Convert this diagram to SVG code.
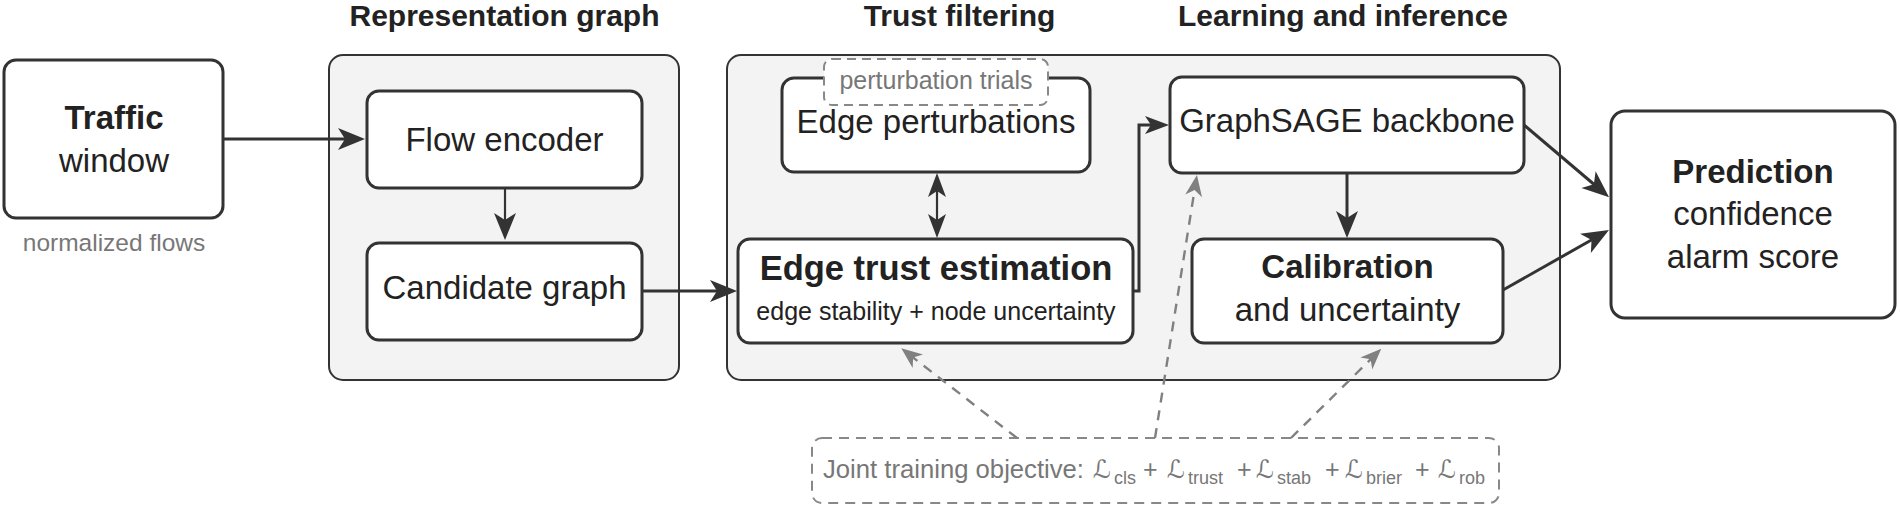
<svg xmlns="http://www.w3.org/2000/svg" width="1900" height="507" viewBox="0 0 1900 507">
<style>
text{font-family:"Liberation Sans","DejaVu Sans",sans-serif;fill:#222;text-anchor:middle}
.title{font-weight:bold;font-size:30px}
.lbl{font-size:33px}
.bold{font-weight:bold;font-size:33px}
.small{font-size:25px}
.gray{fill:#777}
.container{fill:#f3f3f3;stroke:#333;stroke-width:2}
.node{fill:#fff;stroke:#333;stroke-width:3}
.dbox{fill:#fff;stroke:#888;stroke-width:2;stroke-dasharray:9 6}
.obox{fill:#fff;stroke:#888;stroke-width:2;stroke-dasharray:10 7}
.edge{fill:none;stroke:#333;stroke-width:3}
.thin{stroke-width:2.2}
.dash{fill:none;stroke:#808080;stroke-width:2.4;stroke-dasharray:10 8}
.L{font-family:"DejaVu Sans",sans-serif;font-size:25px}
.sub{font-size:18px}
</style>
<defs>
<marker id="ah" markerUnits="userSpaceOnUse" viewBox="-22 -12 32 24" markerWidth="32" markerHeight="24" refX="0" refY="0" orient="auto-start-reverse">
<path d="M8,0 L-19,-11 L-12,0 L-19,11 Z" fill="#333"/>
</marker>
<marker id="ahs" markerUnits="userSpaceOnUse" viewBox="-22 -12 32 24" markerWidth="32" markerHeight="24" refX="0" refY="0" orient="auto-start-reverse">
<path d="M8,0 L-16,-9 L-10,0 L-16,9 Z" fill="#333"/>
</marker>
<marker id="ahg" markerUnits="userSpaceOnUse" viewBox="-22 -12 32 24" markerWidth="32" markerHeight="24" refX="0" refY="0" orient="auto">
<path d="M6,0 L-15,-8.5 L-9,0 L-15,8.5 Z" fill="#808080"/>
</marker>
</defs>

<g id="titles">
<text class="title" x="504.5" y="26">Representation graph</text>
<text class="title" x="959.5" y="26">Trust filtering</text>
<text class="title" x="1343" y="26">Learning and inference</text>
</g>

<g id="containers">
<rect id="rep-container" class="container" x="329" y="55" width="350" height="325" rx="14"/>
<rect id="main-container" class="container" x="727" y="55" width="833" height="325" rx="14"/>
</g>

<g id="traffic">
<rect class="node" x="4" y="60" width="219" height="158" rx="12"/>
<text class="bold" x="114" y="129">Traffic</text>
<text class="lbl" x="114" y="172">window</text>
<text class="small gray" x="114" y="251" style="font-size:24.5px">normalized flows</text>
</g>

<g id="flow-encoder">
<rect class="node" x="367" y="91" width="275" height="97" rx="12"/>
<text class="lbl" x="504.5" y="151">Flow encoder</text>
</g>

<g id="candidate-graph">
<rect class="node" x="367" y="243" width="275" height="97" rx="12"/>
<text class="lbl" x="504.5" y="299">Candidate graph</text>
</g>

<g id="edge-perturbations">
<rect class="node" x="782" y="78" width="308" height="94" rx="12"/>
<text class="lbl" x="936" y="133">Edge perturbations</text>
</g>

<g id="perturbation-trials">
<rect class="dbox" x="824" y="59" width="224" height="46" rx="8"/>
<text class="small gray" x="936" y="89">perturbation trials</text>
</g>

<g id="edge-trust">
<rect class="node" x="738" y="239" width="395" height="104" rx="12"/>
<text class="bold" x="936" y="280" style="font-size:34.5px">Edge trust estimation</text>
<text class="small" x="936" y="320">edge stability + node uncertainty</text>
</g>

<g id="graphsage">
<rect class="node" x="1170" y="77" width="354" height="96" rx="12"/>
<text class="lbl" x="1347" y="132">GraphSAGE backbone</text>
</g>

<g id="calibration">
<rect class="node" x="1192" y="239" width="311" height="104" rx="12"/>
<text class="bold" x="1347.5" y="278">Calibration</text>
<text class="lbl" x="1347.5" y="321">and uncertainty</text>
</g>

<g id="prediction">
<rect class="node" x="1611" y="111" width="284" height="207" rx="14"/>
<text class="bold" x="1753" y="183">Prediction</text>
<text class="lbl" x="1753" y="225">confidence</text>
<text class="lbl" x="1753" y="268">alarm score</text>
</g>

<g id="objective">
<rect class="obox" x="812" y="438" width="687" height="65" rx="10"/>
<text class="gray" y="478" style="text-anchor:start;font-size:25px"><tspan x="823" textLength="261" lengthAdjust="spacingAndGlyphs">Joint training objective:</tspan><tspan class="L" x="1093">ℒ</tspan><tspan class="sub" x="1114" dy="6">cls</tspan><tspan x="1143" dy="-6">+</tspan><tspan class="L" x="1167">ℒ</tspan><tspan class="sub" x="1188" dy="6">trust</tspan><tspan x="1237" dy="-6">+</tspan><tspan class="L" x="1256">ℒ</tspan><tspan class="sub" x="1277" dy="6">stab</tspan><tspan x="1325" dy="-6">+</tspan><tspan class="L" x="1345">ℒ</tspan><tspan class="sub" x="1366" dy="6">brier</tspan><tspan x="1415" dy="-6">+</tspan><tspan class="L" x="1438">ℒ</tspan><tspan class="sub" x="1459" dy="6">rob</tspan></text>
</g>

<g id="connectors">
<path class="edge" d="M223,139 H357" marker-end="url(#ah)"/>
<path class="edge thin" d="M505,188 V232" marker-end="url(#ah)"/>
<path class="edge" d="M642,291 H729" marker-end="url(#ah)"/>
<path class="edge thin" d="M937,181 V230" marker-start="url(#ahs)" marker-end="url(#ahs)"/>
<path class="edge" d="M1133,291 H1139 V125 H1161" marker-end="url(#ahs)"/>
<path class="edge" d="M1347,173 V230" marker-end="url(#ah)"/>
<path class="edge" d="M1524,125 L1603,192" marker-end="url(#ah)"/>
<path class="edge" d="M1503,290 L1602,234" marker-end="url(#ah)"/>
<path class="dash" d="M1017,438 L906,352" marker-end="url(#ahg)"/>
<path class="dash" d="M1155,438 L1196,181" marker-end="url(#ahg)"/>
<path class="dash" d="M1291,438 L1377,353" marker-end="url(#ahg)"/>
</g>
</svg>
